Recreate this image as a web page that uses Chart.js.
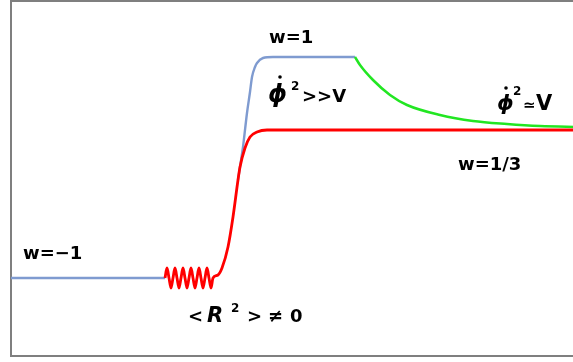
<!DOCTYPE html>
<html>
<head>
<meta charset="utf-8">
<script src="https://cdn.jsdelivr.net/npm/chart.js@4/dist/chart.umd.min.js"></script>
<style>
  html, body { margin: 0; padding: 0; background: #ffffff; overflow: hidden; }
  #wrap { width: 573px; height: 362px; overflow: hidden; }
</style>
</head>
<body>
<div id="wrap"><canvas id="c" width="580" height="362"></canvas></div>
<script>
// ---- data (time t, scale-factor-like value a) ----
const deSitterT = [0, 154];
const deSitterA = [78, 78];

const reheatT = [154, 156, 158, 160, 162, 164, 166, 168, 170, 172, 174, 176, 178,
                 180, 182, 184, 186, 188, 190, 192, 194, 196, 198, 200, 202,
                 207, 211, 217, 222, 227, 229, 234, 239, 246, 256, 569];
const reheatA = [78, 88, 78, 68, 78, 88, 78, 68, 78, 88, 78, 68, 78,
                 88, 78, 68, 78, 88, 78, 68, 78, 88, 78, 68, 78,
                 81, 88, 109, 139, 176, 189, 208, 219, 224, 226, 226];

const stiffT = [227, 229, 232, 236, 239, 241, 244, 246, 252, 262, 344];
const stiffA = [176, 189, 209, 243, 264, 279, 289, 293, 298, 299, 299];

const relaxT = [344, 349, 362, 379, 396, 429, 462, 496, 529, 569];
const relaxA = [299, 291, 276, 261, 251, 241, 235, 232, 230, 229];

const tRange = [0, 569];
const aRange = [0, 355];

function pts(xs, ys) { return xs.map((x, i) => ({ x: x, y: ys[i] })); }

// ---- annotations (text runs) ----
const annotations = [
  { at: [258, 313], runs: [{ t: 'w=1', dx: 0, dy: 0 }] },
  { at: [12, 97],   runs: [{ t: 'w=\u22121', dx: 0, dy: 0 }] },
  { at: [447, 186], runs: [{ t: 'w=1/3', dx: 0, dy: 0 }] },
  { at: [257, 254], dot: [12, -25], runs: [
      { t: '\u03D5', dx: 0, dy: 0, italic: true, size: 24 },
      { t: '2', dx: 23, dy: -12, size: 12 },
      { t: '>>V', dx: 34, dy: 0 } ] },
  { at: [486, 246], dot: [9, -22], runs: [
      { t: '\u03D5', dx: 0, dy: 0, italic: true, size: 21 },
      { t: '2', dx: 16, dy: -15, size: 12 },
      { t: '\u2243', dx: 26, dy: 0, size: 15 },
      { t: 'V', dx: 39, dy: 0, size: 21 } ] },
  { at: [177, 34], runs: [
      { t: '<', dx: 0, dy: 0 },
      { t: 'R', dx: 19, dy: 0, italic: true, size: 21 },
      { t: '2', dx: 43, dy: -10, size: 12 },
      { t: '>', dx: 59, dy: 0 },
      { t: '\u2260', dx: 80, dy: 0 },
      { t: '0', dx: 102, dy: 0 } ] }
];

const framePlugin = {
  id: 'frame',
  beforeDatasetsDraw(chart) {
    const a = chart.chartArea, ctx = chart.ctx;
    ctx.save();
    ctx.strokeStyle = '#7f7f7f';
    ctx.lineWidth = 2;
    ctx.beginPath();
    ctx.moveTo(chart.width + 10, a.top);
    ctx.lineTo(a.left, a.top);
    ctx.lineTo(a.left, a.bottom);
    ctx.lineTo(chart.width + 10, a.bottom);
    ctx.stroke();
    ctx.restore();
  }
};

const textPlugin = {
  id: 'texts',
  afterDatasetsDraw(chart) {
    const ctx = chart.ctx, xs = chart.scales.x, ys = chart.scales.y;
    ctx.save();
    ctx.fillStyle = '#000000';
    ctx.textBaseline = 'alphabetic';
    ctx.textAlign = 'left';
    annotations.forEach(an => {
      const px = xs.getPixelForValue(an.at[0]);
      const py = ys.getPixelForValue(an.at[1]);
      an.runs.forEach(r => {
        const size = r.size || 18;
        ctx.font = (r.italic ? 'italic ' : '') + 'bold ' + size + 'px "DejaVu Sans"';
        ctx.fillText(r.t, px + r.dx, py + r.dy);
      });
      if (an.dot) {
        ctx.beginPath();
        ctx.arc(px + an.dot[0], py + an.dot[1], 1.8, 0, Math.PI * 2);
        ctx.fill();
      }
    });
    ctx.restore();
  }
};

new Chart(document.getElementById('c'), {
  type: 'line',
  data: {
    datasets: [
      { label: 'reheating', data: pts(reheatT, reheatA), borderColor: '#ff0000', borderWidth: 2.8,
        cubicInterpolationMode: 'monotone', pointRadius: 0, order: 0 },
      { label: 'inflation', data: pts(deSitterT, deSitterA), borderColor: '#7f9bd0', borderWidth: 2.5,
        pointRadius: 0, order: 1 },
      { label: 'kination', data: pts(stiffT, stiffA), borderColor: '#7f9bd0', borderWidth: 2.4,
        cubicInterpolationMode: 'monotone', pointRadius: 0, order: 2 },
      { label: 'relaxation', data: pts(relaxT, relaxA), borderColor: '#22e622', borderWidth: 2.5,
        cubicInterpolationMode: 'monotone', pointRadius: 0, order: 1 }
    ]
  },
  options: {
    responsive: false,
    devicePixelRatio: 1,
    animation: false,
    layout: { padding: { left: 11, top: 1, right: 0, bottom: 6 } },
    plugins: { legend: { display: false }, tooltip: { enabled: false } },
    scales: {
      x: { type: 'linear', display: false, min: tRange[0], max: tRange[1] },
      y: { type: 'linear', display: false, min: aRange[0], max: aRange[1] }
    }
  },
  plugins: [framePlugin, textPlugin]
});
</script>
</body>
</html>
